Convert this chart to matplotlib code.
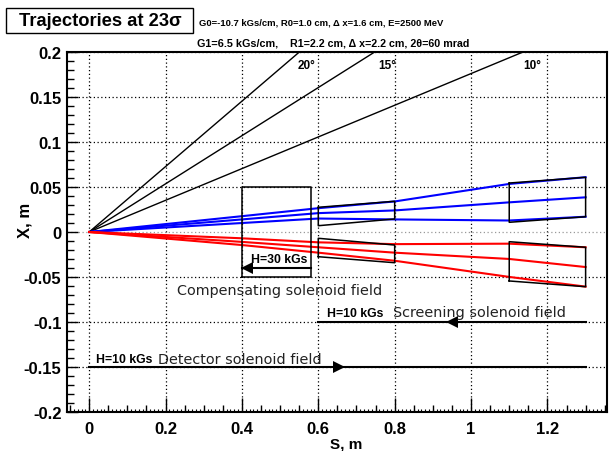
import matplotlib
matplotlib.use("Agg")
import matplotlib.pyplot as plt
from matplotlib.patches import Rectangle
import numpy as np

# ---------------- data ----------------
angles_deg = [20, 15, 10]
angle_labels = ["20°", "15°", "10°"]
angle_label_S = [0.57, 0.78, 1.16]
angle_label_X = 0.1855

S_nodes = [0.0, 0.4, 0.6, 0.8, 1.1, 1.3]
blue_upper = [0.0, 0.0176, 0.0265, 0.0340, 0.0535, 0.0610]
blue_mid = [0.0, 0.0140, 0.0210, 0.0240, 0.0330, 0.0386]
blue_low = [0.0, 0.0100, 0.0150, 0.0140, 0.0128, 0.0170]
red_upper = [0.0, -0.0070, -0.0115, -0.0135, -0.0130, -0.0170]
red_mid = [0.0, -0.0110, -0.0170, -0.0230, -0.0300, -0.0390]
red_low = [0.0, -0.0145, -0.0230, -0.0320, -0.0500, -0.0608]

quad1_S = [0.6, 0.8]
quad1_outer = [0.0275, 0.0342]
quad1_inner = [0.0070, 0.0145]
quad2_S = [1.1, 1.3]
quad2_outer = [0.0545, 0.0609]
quad2_inner = [0.0108, 0.0170]

sol_S = [0.4, 0.581]
sol_X = [-0.05, 0.05]
sol_arrow_X = -0.04

screen_S = [0.6, 1.3]
screen_X = -0.1
screen_arrow_S = 0.95
det_S = [0.0, 1.3]
det_X = -0.15
det_arrow_S = 0.655

title = "Trajectories at 23σ"
line1 = "G0=-10.7 kGs/cm, R0=1.0 cm, Δ x=1.6 cm, E=2500 MeV"
line2a = "G1=6.5 kGs/cm,"
line2b = "R1=2.2 cm, Δ x=2.2 cm, 2θ=60 mrad"

# ---------------- fonts ----------------
plt.rcParams['font.family'] = ["Liberation Sans", 'DejaVu Sans']

W, H = 612, 452
fig = plt.figure(figsize=(W / 100, H / 100), dpi=100)
ax = fig.add_axes([67 / W, 1 - 412.7 / H, (607 - 67) / W, (412.7 - 53.3) / H])
ax.set_xlim(-0.058, 1.356)
ax.set_ylim(-0.2, 0.2)

# ticks & grid
ax.set_xticks(np.arange(0, 1.21, 0.2))
ax.set_yticks(np.arange(-0.2, 0.201, 0.05))
ax.set_xticks(np.arange(-0.05, 1.36, 0.05), minor=True)
ax.set_yticks(np.arange(-0.2, 0.201, 0.01), minor=True)
ax.grid(True, which='major', color='black', linestyle=(0, (1, 2)), linewidth=0.9)
for gl, v in zip(ax.yaxis.get_gridlines(), ax.get_yticks()):
    if abs(v) < 1e-9:
        gl.set_color('#999999')
ax.set_xticklabels(["0", "0.2", "0.4", "0.6", "0.8", "1", "1.2"])
ax.set_yticklabels(["-0.2", "-0.15", "-0.1", "-0.05", "0", "0.05", "0.1", "0.15", "0.2"])
ax.tick_params(which='major', direction='in', length=10, width=1, labelsize=12)
ax.tick_params(which='minor', direction='in', length=5, width=1)
ax.tick_params(axis='y', which='major', length=8)
ax.tick_params(axis='y', which='minor', length=5)
for lab in ax.get_xticklabels() + ax.get_yticklabels():
    lab.set_fontweight('bold')
ax.tick_params(axis='x', pad=7)
ax.tick_params(axis='y', pad=4)
for sp in ax.spines.values():
    sp.set_linewidth(1.5)

# fine 0.01 ticks along the S axis
sec = ax.secondary_xaxis('bottom')
sec.set_xticks(np.arange(-0.05, 1.355, 0.01))
sec.tick_params(direction='in', length=2.5, width=0.8, labelbottom=False)
sec.spines['bottom'].set_visible(False)

# angle lines
for a in angles_deg:
    sl = np.tan(np.radians(a))
    s_end = 0.2 / sl
    ax.plot([0, s_end], [0, 0.2], color='black', lw=1.0, clip_on=True)
for lab, s in zip(angle_labels, angle_label_S):
    ax.text(s, angle_label_X, lab, ha='center', va='center', fontsize=8.5, fontweight='bold')

# trajectories
for ys in (blue_upper, blue_mid, blue_low):
    ax.plot(S_nodes, ys, color='#0000ff', lw=1.5)
for ys in (red_upper, red_mid, red_low):
    ax.plot(S_nodes, ys, color='#ff0000', lw=1.5)

# quads
for qs, qo, qi in ((quad1_S, quad1_outer, quad1_inner), (quad2_S, quad2_outer, quad2_inner)):
    for sign in (1, -1):
        xs = [qs[0], qs[1], qs[1], qs[0], qs[0]]
        ys = [sign * qo[0], sign * qo[1], sign * qi[1], sign * qi[0], sign * qo[0]]
        ax.plot(xs, ys, color='black', lw=1.1)

# compensating solenoid
ax.plot([sol_S[0], sol_S[1], sol_S[1], sol_S[0], sol_S[0]],
        [sol_X[0], sol_X[0], sol_X[1], sol_X[1], sol_X[0]], color='black', lw=1.1)
ax.plot(sol_S, [sol_arrow_X, sol_arrow_X], color='black', lw=1.5)
ax.plot([sol_S[0] + 0.013], [sol_arrow_X], marker='<', color='black', ms=8, mew=0)
ax.text(0.423, -0.030, "H=30 kGs", ha='left', va='center', fontsize=8.8, fontweight='bold')
ax.text(0.231, -0.064, "Compensating solenoid field", ha='left', va='center',
        fontsize=10.4, family='DejaVu Sans', color='#222222')

# screening
ax.plot(screen_S, [screen_X, screen_X], color='black', lw=1.5)
ax.plot([screen_arrow_S], [screen_X], marker='<', color='black', ms=8, mew=0)
ax.text(0.622, -0.090, "H=10 kGs", ha='left', va='center', fontsize=8.8, fontweight='bold')
ax.text(0.795, -0.089, "Screening solenoid field", ha='left', va='center',
        fontsize=10.4, family='DejaVu Sans', color='#222222')

# detector
ax.plot(det_S, [det_X, det_X], color='black', lw=1.5)
ax.plot([det_arrow_S], [det_X], marker='>', color='black', ms=8, mew=0)
ax.text(0.019, -0.141, "H=10 kGs", ha='left', va='center', fontsize=8.8, fontweight='bold')
ax.text(0.181, -0.141, "Detector solenoid field", ha='left', va='center',
        fontsize=10.4, family='DejaVu Sans', color='#222222')

# axis labels
fig.text(346 / W, 1 - 445 / H, "S, m", ha='center', va='center', fontsize=11,
         fontweight='bold')
fig.text(25 / W, 1 - 220 / H, "X, m", ha='center', va='center', rotation=90, fontsize=12,
         fontweight='bold')

# title box and header texts
fig.patches.append(Rectangle((6 / W, 1 - 34.3 / H), 187 / W, 25 / H, transform=fig.transFigure,
                             facecolor='white', edgecolor='black', lw=1.0))
fig.text(100 / W, 1 - 22 / H, title, ha='center', va='center', fontsize=13.2,
         fontweight='bold')
fig.text(199 / W, 1 - 23 / H, line1, ha='left', va='center', fontsize=6.8,
         fontweight='bold')
fig.text(197 / W, 1 - 43.5 / H, line2a, ha='left', va='center', fontsize=7.8,
         fontweight='bold')
fig.text(290 / W, 1 - 43.5 / H, line2b, ha='left', va='center', fontsize=7.7,
         fontweight='bold')

fig.savefig("out.png", dpi=100)
